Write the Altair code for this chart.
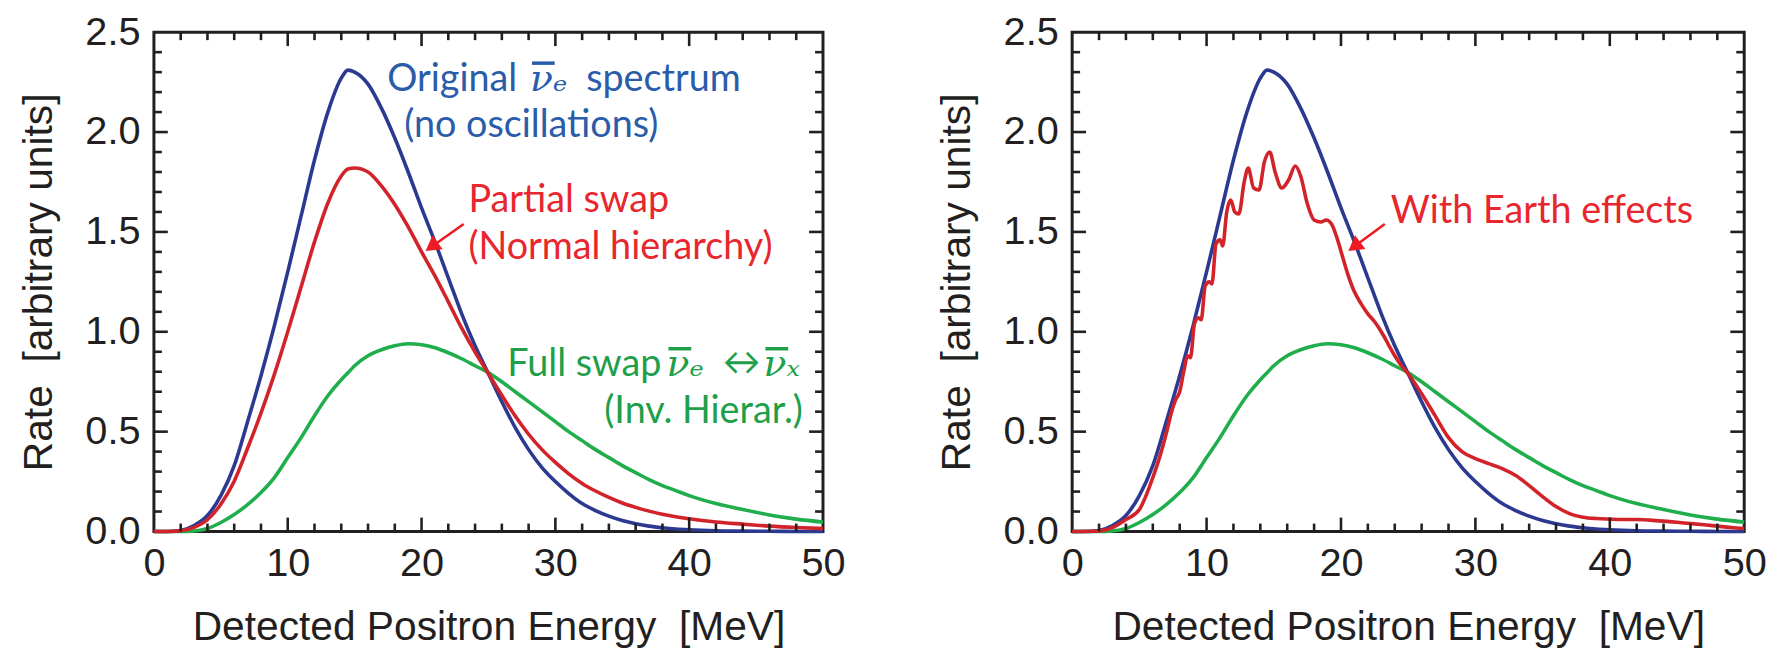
import altair as alt
import pandas as pd

# ---------------- data ----------------
energy = [0, 1, 2, 3, 4, 5, 6, 7, 8, 9, 10, 11, 12, 13, 14, 14.5, 15, 16, 17, 18, 19, 20,
          21, 22, 23, 24, 25, 26, 27, 28, 29, 30, 31, 32, 33, 34, 35, 36, 37, 38, 39, 40,
          42, 44, 46, 48, 50]
original = [0, 0, 0.005, 0.03, 0.08, 0.18, 0.33, 0.55, 0.78, 1.03, 1.30, 1.58, 1.86, 2.10, 2.27, 2.31,
            2.30, 2.24, 2.12, 1.97, 1.80, 1.62, 1.45, 1.27, 1.09, 0.93, 0.79, 0.65, 0.52, 0.41, 0.32,
            0.25, 0.19, 0.14, 0.105, 0.077, 0.055, 0.039, 0.027, 0.019, 0.013, 0.009,
            0.004, 0.002, 0.001, 0.0005, 0.0]
full_swap = [0, 0, 0, 0.003, 0.015, 0.045, 0.085, 0.135, 0.195, 0.27, 0.37, 0.47, 0.58, 0.68, 0.76, 0.795,
             0.83, 0.88, 0.91, 0.93, 0.94, 0.935, 0.92, 0.895, 0.865, 0.83, 0.795, 0.75, 0.70, 0.65, 0.60,
             0.55, 0.50, 0.455, 0.41, 0.37, 0.33, 0.295, 0.26, 0.23, 0.205, 0.18,
             0.14, 0.11, 0.083, 0.062, 0.047]
partial_swap = [0, 0, 0.004, 0.021, 0.059, 0.137, 0.252, 0.417, 0.593, 0.787, 1.00, 1.225, 1.45, 1.645, 1.78, 1.815,
                1.82, 1.80, 1.73, 1.637, 1.525, 1.40, 1.28, 1.15, 1.018, 0.898, 0.79, 0.682, 0.578, 0.487, 0.41,
                0.346, 0.289, 0.241, 0.203, 0.171, 0.143, 0.121, 0.102, 0.086, 0.074, 0.064,
                0.048, 0.037, 0.027, 0.02, 0.015]

earth_energy = [0, 2, 3, 4, 5, 5.5, 6, 6.5, 7, 7.4, 7.7, 8.0, 8.3, 8.6, 8.8, 9.1, 9.4, 9.6, 9.9, 10.2,
                10.4, 10.7, 11.0, 11.2, 11.5, 11.8, 12.1, 12.4, 12.8, 13.1, 13.5, 13.9, 14.3, 14.7, 15.1,
                15.6, 16.1, 16.6, 17.0, 17.5, 18.0, 18.5, 18.9, 19.3, 19.7, 20.1, 20.5, 21, 21.5, 22,
                22.5, 23, 23.5, 24, 24.5, 25, 26, 27, 28, 29, 30, 31, 32, 33, 34, 35, 36, 37, 38, 39,
                40, 41, 42, 43, 44, 45, 46, 47, 48, 49, 50]
earth_rate = [0, 0.003, 0.02, 0.06, 0.11, 0.18, 0.27, 0.37, 0.49, 0.60, 0.66, 0.70, 0.80, 0.88, 0.87, 1.04,
              1.07, 1.06, 1.23, 1.25, 1.24, 1.44, 1.46, 1.43, 1.60, 1.66, 1.60, 1.59, 1.75, 1.82, 1.72,
              1.71, 1.85, 1.90, 1.80, 1.72, 1.76, 1.83, 1.78, 1.64, 1.56, 1.55, 1.56, 1.54, 1.47, 1.38,
              1.29, 1.20, 1.14, 1.09, 1.05, 1.00, 0.94, 0.88, 0.83, 0.79, 0.69, 0.58, 0.47, 0.40, 0.365,
              0.34, 0.315, 0.28, 0.23, 0.175, 0.125, 0.09, 0.072, 0.065, 0.062, 0.06, 0.06, 0.057, 0.052,
              0.046, 0.04, 0.034, 0.027, 0.02, 0.015]

x_ticks = [0, 10, 20, 30, 40, 50]
y_ticks = [0.0, 0.5, 1.0, 1.5, 2.0, 2.5]
x_minor = [2, 4, 6, 8, 12, 14, 16, 18, 22, 24, 26, 28, 32, 34, 36, 38, 42, 44, 46, 48]
y_minor = [0.1, 0.2, 0.3, 0.4, 0.6, 0.7, 0.8, 0.9, 1.1, 1.2, 1.3, 1.4, 1.6, 1.7, 1.8, 1.9,
           2.1, 2.2, 2.3, 2.4]
x_major_inner = [10, 20, 30, 40]
y_major_inner = [0.5, 1.0, 1.5, 2.0]

# annotation pieces of the left panel: text, energy, rate, kind, colour, align
left_ann_text = ["Original", "\u03bd\u2091", "spectrum", "(no oscillations)",
                 "Partial swap", "(Normal hierarchy)",
                 "Full swap", "\u03bd\u2091", "\u2194", "\u03bd\u2093", "(Inv. Hierar.)"]
left_ann_E = [17.43, 28.1, 32.3, 18.7,
              23.5, 23.5,
              26.41, 38.3, 42.5, 45.55, 48.5]
left_ann_R = [2.207, 2.207, 2.207, 1.973,
              1.60, 1.362,
              0.78, 0.78, 0.785, 0.78, 0.542]
left_ann_kind = ["sans", "math", "sans", "sans",
                 "sans", "sans",
                 "sans", "math", "sans", "math", "sans"]
left_ann_col = ["blue", "blue", "blue", "blue",
                "red", "red",
                "green", "green", "green", "green", "green"]
left_ann_align = ["left"] * 10 + ["right"]

# the anti-neutrino over-bars
bar_E = [28.25, 38.45, 45.7]
bar_E2 = [29.95, 40.15, 47.4]
bar_R = [2.345, 0.915, 0.915]
bar_col = ["blue", "green", "green"]

right_ann_text = ["With Earth effects"]
right_ann_E = [23.7]
right_ann_R = [1.546]

left_arrow_E = [23.15, 20.75]
left_arrow_R = [1.54, 1.426]
right_arrow_E = [23.26, 20.99]
right_arrow_R = [1.54, 1.427]

# ---------------- styling ----------------
W_LEFT, W_RIGHT, H = 674, 677, 503
FRAME = "#231f20"
LINE_COL = {"blue": "#2b3990", "red": "#d2232a", "green": "#1fae4b"}
TEXT_COL = {"blue": "#2a5caa", "red": "#e8262d", "green": "#1f9f4a"}
AX_FONT = "Liberation Sans"
KIND_STYLE = {
    "sans": dict(font="Lato, DejaVu Sans", fontSize=38, fontStyle="normal"),
    "math": dict(font="DejaVu Serif", fontSize=38, fontStyle="italic"),
}
NB = "\u00a0"

xs = alt.Scale(domain=[0, 50], nice=False, zero=False)
ys = alt.Scale(domain=[0, 2.5], nice=False, zero=False)


def x_enc(field="E"):
    return alt.X(f"{field}:Q", scale=xs,
                 axis=alt.Axis(values=x_ticks, title="Detected Positron Energy" + NB + NB + "[MeV]",
                               labelFlush=False, labelPadding=12, titlePadding=25))


def y_enc():
    return alt.Y("R:Q", scale=ys,
                 axis=alt.Axis(values=y_ticks, format=".1f", title="Rate" + NB + NB + "[arbitrary units]",
                               labelFlush=False, labelPadding=14, titlePadding=25))


def line_layer(df, color):
    return alt.Chart(df).mark_line(color=color, strokeWidth=3.6, interpolate="monotone").encode(
        x=x_enc(), y=y_enc())


def tick_layers(width):
    xmaj = pd.DataFrame({"E": x_major_inner})
    xmin = pd.DataFrame({"E": x_minor})
    ymaj = pd.DataFrame({"R": y_major_inner})
    ymin = pd.DataFrame({"R": y_minor})
    layers = []
    for df, ln in ((xmaj, 14), (xmin, 8)):
        base = alt.Chart(df).mark_rule(color=FRAME, strokeWidth=2.6)
        layers.append(base.encode(x=x_enc(), y=alt.value(H), y2=alt.value(H - ln)))
        layers.append(base.encode(x=x_enc(), y=alt.value(0), y2=alt.value(ln)))
    for df, ln in ((ymaj, 14), (ymin, 8)):
        base = alt.Chart(df).mark_rule(color=FRAME, strokeWidth=2.6)
        layers.append(base.encode(y=y_enc(), x=alt.value(0), x2=alt.value(ln)))
        layers.append(base.encode(y=y_enc(), x=alt.value(width), x2=alt.value(width - ln)))
    return layers


def arrow_layers(E, R, angle):
    df = pd.DataFrame({"E": E, "R": R})
    shaft = alt.Chart(df).mark_line(color="#ed1c24", strokeWidth=2.6).encode(x=x_enc(), y=y_enc())
    head = alt.Chart(df.iloc[[1]]).mark_point(shape="triangle-up", filled=True, opacity=1,
                                              color="#ed1c24", size=300, angle=angle).encode(
        x=x_enc(), y=y_enc())
    return [shaft, head]


def text_piece(label, E, R, kind, col, align):
    df = pd.DataFrame({"E": [E], "R": [R], "label": [label]})
    return alt.Chart(df).mark_text(align=align, baseline="alphabetic", color=TEXT_COL[col],
                                   **KIND_STYLE[kind]).encode(
        x=x_enc(), y=y_enc(), text="label:N")


def bar_piece(E, E2, R, col):
    df = pd.DataFrame({"E": [E], "E2": [E2], "R": [R]})
    return alt.Chart(df).mark_rule(color=TEXT_COL[col], strokeWidth=3.5).encode(
        x=x_enc(), x2="E2:Q", y=y_enc())


df_orig = pd.DataFrame({"E": energy, "R": original})
df_full = pd.DataFrame({"E": energy, "R": full_swap})
df_part = pd.DataFrame({"E": energy, "R": partial_swap})
df_earth = pd.DataFrame({"E": earth_energy, "R": earth_rate})

left_texts = [text_piece(left_ann_text[i], left_ann_E[i], left_ann_R[i], left_ann_kind[i],
                         left_ann_col[i], left_ann_align[i]) for i in range(len(left_ann_text))]
left_bars = [bar_piece(bar_E[i], bar_E2[i], bar_R[i], bar_col[i]) for i in range(len(bar_E))]
right_texts = [text_piece(right_ann_text[i], right_ann_E[i], right_ann_R[i], "sans", "red", "left")
               for i in range(len(right_ann_text))]

left = alt.layer(
    line_layer(df_full, LINE_COL["green"]),
    line_layer(df_orig, LINE_COL["blue"]),
    line_layer(df_part, LINE_COL["red"]),
    *tick_layers(W_LEFT),
    *arrow_layers(left_arrow_E, left_arrow_R, 234),
    *left_texts,
    *left_bars,
).properties(width=W_LEFT, height=H)

right = alt.layer(
    line_layer(df_full, LINE_COL["green"]),
    line_layer(df_orig, LINE_COL["blue"]),
    line_layer(df_earth, LINE_COL["red"]),
    *tick_layers(W_RIGHT),
    *arrow_layers(right_arrow_E, right_arrow_R, 233),
    *right_texts,
).properties(width=W_RIGHT, height=H)

chart = alt.hconcat(left, right, spacing=251, bounds="flush").properties(
    padding={"left": 8, "top": 0, "right": 5, "bottom": 0}
).configure_view(
    stroke=FRAME, strokeWidth=3
).configure_axis(
    domain=False, ticks=False, tickSize=0, grid=False,
    labelFont=AX_FONT, labelFontSize=40, labelColor=FRAME,
    titleFont=AX_FONT, titleFontSize=41, titleFontWeight="normal", titleColor=FRAME,
)

chart.save("out.html", embed_options={"renderer": "svg", "actions": False})
